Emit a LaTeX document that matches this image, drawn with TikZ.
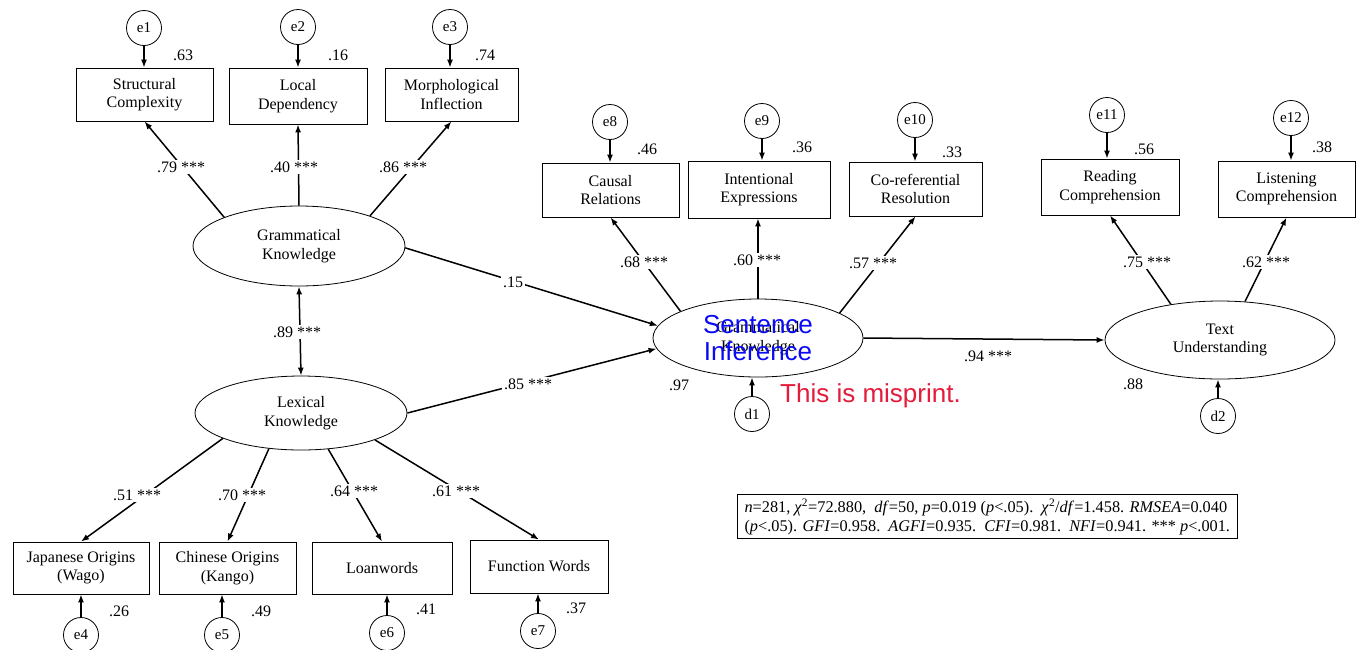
\documentclass[tikz,border=0pt]{standalone}
\usepackage{fontspec}
\setmainfont{Liberation Serif}
\newfontfamily\arialfont{Liberation Sans}
\usetikzlibrary{arrows.meta,shapes.geometric}
\definecolor{misred}{RGB}{228,27,58}
\definecolor{misblue}{RGB}{10,10,245}
\begin{document}
\begin{tikzpicture}[x=1pt,y=-1pt,
 every node/.style={font=\fontsize{16}{18.5}\selectfont},
 obs/.style={draw,line width=0.8pt,rectangle,align=center,inner sep=0pt},
 lat/.style={draw,line width=0.8pt,ellipse,inner sep=0pt,align=center},
 err/.style={draw,line width=0.8pt,circle,minimum size=35pt,inner sep=0pt,font=\fontsize{15}{17}\selectfont},
 arr/.style={line width=1.5pt,-{Latex[length=8pt,width=6pt]}},
 barr/.style={line width=1.5pt,{Latex[length=8pt,width=6pt]}-{Latex[length=8pt,width=6pt]}},
 lab/.style={fill=white,inner sep=2pt},
 num/.style={inner sep=0pt}]
\useasboundingbox (0,0) rectangle (1359,649);
\fill[white] (0,0) rectangle (1359,649);

% observed variables
\node[obs,minimum width=137pt,minimum height=53pt] (SC) at (144.5,94.5) {Structural\\Complexity};
\node[obs,minimum width=138pt,minimum height=56pt] (LD) at (298,96) {Local\\Dependency};
\node[obs,minimum width=133pt,minimum height=53pt] (MI) at (451.5,94.5) {Morphological\\Inflection};
\node[obs,minimum width=137pt,minimum height=54pt] (CR) at (610.5,190) {Causal\\Relations};
\node[obs,minimum width=142pt,minimum height=57pt] (IE) at (759,189.5) {Intentional\\Expressions};
\node[obs,minimum width=133pt,minimum height=54pt] (CRR) at (915.5,189) {Co-referential\\Resolution};
\node[obs,minimum width=138pt,minimum height=56pt] (RC) at (1110,187) {Reading\\Comprehension};
\node[obs,minimum width=137pt,minimum height=56pt] (LC) at (1286.5,189) {Listening\\Comprehension};
\node[obs,minimum width=136pt,minimum height=52pt] (JO) at (81,568) {Japanese Origins\\(Wago)};
\node[obs,minimum width=137pt,minimum height=52pt] (CO) at (227.5,568) {Chinese Origins\\(Kango)};
\node[obs,minimum width=140pt,minimum height=52pt] (LW) at (382,568) {Loanwords};
\node[obs,minimum width=138pt,minimum height=53pt] (FW) at (539,566.5) {Function Words};

% latent variables
\node[lat,minimum width=212pt,minimum height=80pt] (GK) at (299,246) {Grammatical\\Knowledge};
\node[lat,minimum width=212pt,minimum height=74pt] (LK) at (301,413) {Lexical\\Knowledge};
\node[lat,minimum width=210pt,minimum height=78pt] (SI) at (758,338) {Grammatical\\Knowledge};
\node[lat,minimum width=230pt,minimum height=78pt] (TU) at (1220,340) {Text\\Understanding};

% error terms
\node[err] (e1) at (144,28) {e1};
\node[err] (e2) at (298,27) {e2};
\node[err] (e3) at (450,27) {e3};
\node[err] (e8) at (610,122) {e8};
\node[err] (e9) at (762,121) {e9};
\node[err] (e10) at (915,120) {e10};
\node[err] (e11) at (1107,115) {e11};
\node[err] (e12) at (1291,118) {e12};
\node[err] (e4) at (81,635) {e4};
\node[err] (e5) at (222,635) {e5};
\node[err] (e6) at (387,633) {e6};
\node[err] (e7) at (538,631) {e7};
\node[err] (d1) at (752,414) {d1};
\node[err] (d2) at (1218,416) {d2};

% error arrows
\draw[arr] (e1) -- (e1 |- SC.north);
\draw[arr] (e2) -- (e2 |- LD.north);
\draw[arr] (e3) -- (e3 |- MI.north);
\draw[arr] (e8) -- (e8 |- CR.north);
\draw[arr] (e9) -- (e9 |- IE.north);
\draw[arr] (e10) -- (e10 |- CRR.north);
\draw[arr] (e11) -- (e11 |- RC.north);
\draw[arr] (e12) -- (e12 |- LC.north);
\draw[arr] (e4) -- (e4 |- JO.south);
\draw[arr] (e5) -- (e5 |- CO.south);
\draw[arr] (e6) -- (e6 |- LW.south);
\draw[arr] (e7) -- (e7 |- FW.south);
\draw[arr] (d1) -- (d1 |- SI.south);
\draw[arr] (d2) -- (d2 |- TU.south);

% loadings
\draw[arr] (GK.159) -- (SC.south);
\draw[arr] (GK.north) -- (LD.south);
\draw[arr] (GK.23) -- (MI.south);
\draw[arr] (LK.198) -- (JO.north);
\draw[arr] (LK.228) -- (CO.north);
\draw[arr] (LK.307) -- (LW.north);
\draw[arr] (LK.340) -- (FW.north);
\draw[arr] (SI.161) -- (CR.south);
\draw[arr] (SI.north) -- (SI.north |- IE.south);
\draw[arr] (SI.17) -- (CRR.south);
\draw[arr] (TU.144) -- (RC.south);
\draw[arr] (TU.57) -- (LC.south);
\draw[barr] (GK.south) -- (LK.north);
\draw[arr] (GK.-1) -- (SI.173);
\draw[arr] (LK.east) -- (SI.186);
\draw[arr] (SI.east) -- (TU.west);

% labels on paths
\node[lab] (l1) at (181,167) {.79 ***};
\node[lab] (l2) at (294,167) {.40 ***};
\node[lab] (l3) at (403,167) {.86 ***};
\node[lab] (l4) at (297,332) {.89 ***};
\node[lab] (l5) at (513,282) {.15};
\node[lab] (l6) at (528,384) {.85 ***};
\node[lab] (l7) at (137,495) {.51 ***};
\node[lab] (l8) at (242,495) {.70 ***};
\node[lab] (l9) at (354,491) {.64 ***};
\node[lab] (l10) at (456,491) {.61 ***};
\node[lab] (l11) at (644,262) {.68 ***};
\node[lab] (l12) at (757,260) {.60 ***};
\node[lab] (l13) at (873,263) {.57 ***};
\node[lab] (l14) at (1147,262) {.75 ***};
\node[lab] (l15) at (1266,262) {.62 ***};
\node[num] (l16) at (988,356) {.94 ***};

% squared multiple correlations
\node[num] (r1) at (183,55) {.63};
\node[num] (r2) at (338,55) {.16};
\node[num] (r3) at (485,55) {.74};
\node[num] (r8) at (647,149) {.46};
\node[num] (r9) at (802,147) {.36};
\node[num] (r10) at (952,152) {.33};
\node[num] (r11) at (1144,149) {.56};
\node[num] (r12) at (1322,147) {.38};
\node[num] (r4) at (119,611) {.26};
\node[num] (r5) at (261,611) {.49};
\node[num] (r6) at (426,609) {.41};
\node[num] (r7) at (576,608) {.37};
\node[num] (rs) at (679,385) {.97};
\node[num] (rt) at (1133,384) {.88};

% overlay annotations
\node[text=misblue,align=center,font=\arialfont\fontsize{26}{27}\selectfont] (ov) at (SI.center) {Sentence\\Inference};
\node[text=misred,font=\arialfont\fontsize{26}{30}\selectfont,anchor=west,inner sep=0pt] (mp) at (780,396) {This is misprint.};

% fit statistics
\node[draw,line width=1pt,anchor=north west,align=left,inner xsep=7pt,inner ysep=4pt,font=\fontsize{16.3}{19}\selectfont] (fit) at (737,494)
{\textit{n}=281, \textit{χ}\textsuperscript{2}=72.880,\ \ \textit{df}=50, \textit{p}=0.019 (\textit{p}<.05).\ \ \textit{χ}\textsuperscript{2}/\textit{df}=1.458. \textit{RMSEA}=0.040\\
(\textit{p}<.05). \textit{GFI}=0.958.\ \ \textit{AGFI}=0.935.\ \ \textit{CFI}=0.981.\ \ \textit{NFI}=0.941. *** \textit{p}<.001.};
\end{tikzpicture}
\end{document}
